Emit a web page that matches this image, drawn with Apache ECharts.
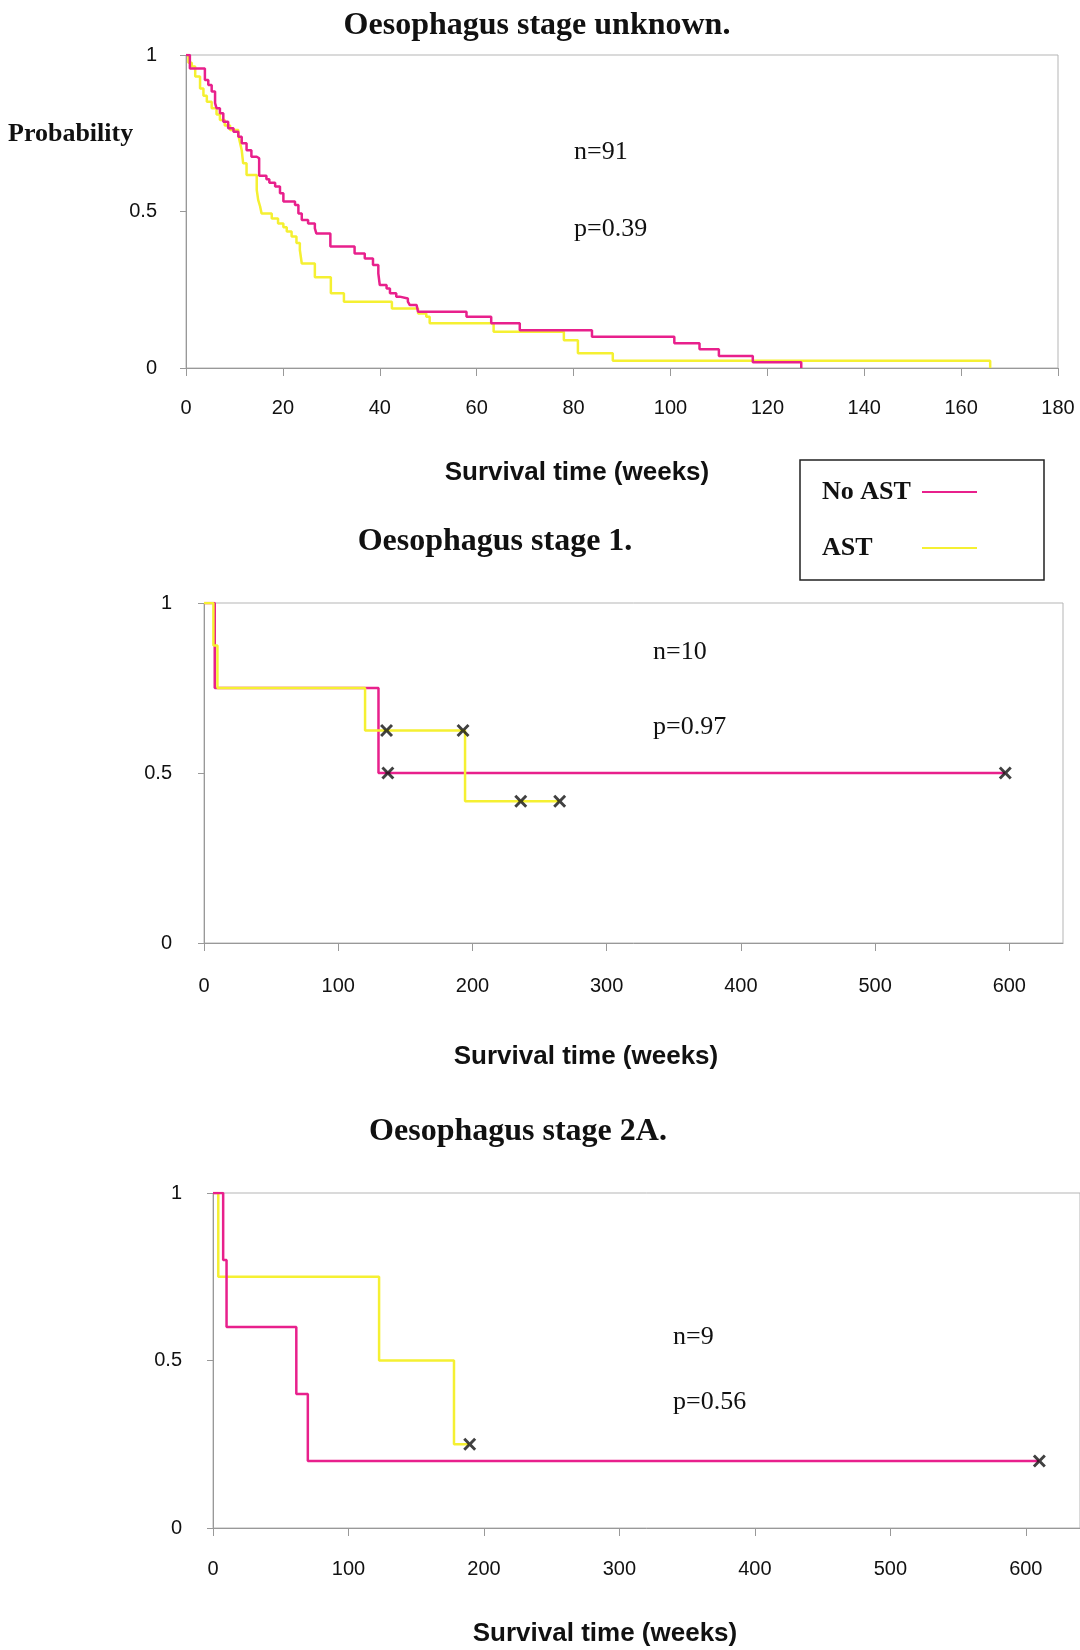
<!DOCTYPE html>
<html>
<head>
<meta charset="utf-8">
<title>Oesophagus survival by AST</title>
<script src="https://cdn.jsdelivr.net/npm/echarts@6.0.0/dist/echarts.min.js"></script>
<style>
  body { margin: 0; background: #fff; }
  #content { width: 1080px; height: 1650px; }
</style>
</head>
<body>
<div id="content"></div>
<script>
// Kaplan-Meier steps: [week, survival after the drop]
var noAstUnknown = [[0, 1], [0.8, 0.957], [3.9, 0.92], [4.6, 0.904], [5.3, 0.883], [6.0, 0.846], [6.3, 0.83],
    [7.0, 0.814], [7.7, 0.787], [8.7, 0.766], [9.8, 0.755], [10.8, 0.739], [11.5, 0.718], [12.5, 0.696],
    [13.5, 0.675], [14.6, 0.67], [15.1, 0.614], [16.6, 0.603], [17.2, 0.592], [18.4, 0.58], [19.4, 0.558],
    [20.1, 0.532], [22.5, 0.521], [23.2, 0.494], [23.9, 0.473], [25.2, 0.462], [26.6, 0.446], [26.9, 0.43],
    [29.8, 0.388], [34.8, 0.366], [36.9, 0.35], [38.6, 0.329], [39.7, 0.302], [40.0, 0.265], [41.4, 0.254],
    [42.1, 0.239], [43.4, 0.228], [44.1, 0.222], [45.8, 0.212], [46.2, 0.201], [47.6, 0.196], [47.9, 0.18],
    [57.9, 0.164], [63.0, 0.143], [68.9, 0.121], [83.8, 0.1], [100.8, 0.079], [106, 0.06], [110, 0.038],
    [117, 0.018], [127, 0]];
var astUnknown = [[0, 1], [0.5, 0.975], [1.2, 0.963], [1.9, 0.931], [2.9, 0.893], [3.6, 0.87], [4.3, 0.851],
    [5.3, 0.83], [6.3, 0.81], [7.0, 0.792], [8.0, 0.775], [9.1, 0.76], [10.8, 0.744], [11.1, 0.723],
    [11.5, 0.696], [11.8, 0.654], [12.5, 0.617], [14.6, 0.569], [14.9, 0.537], [15.3, 0.516], [15.6, 0.494],
    [17.7, 0.478], [19.0, 0.462], [20.1, 0.45], [20.8, 0.436], [21.8, 0.42], [22.8, 0.399], [23.5, 0.377],
    [23.9, 0.334], [26.6, 0.29], [29.9, 0.239], [32.6, 0.212], [42.5, 0.19], [47.9, 0.174], [49.6, 0.164],
    [50.3, 0.143], [63.5, 0.116], [78.0, 0.089], [80.9, 0.047], [88.1, 0.023], [166, 0]];

var noAstStage1 = [[0, 1], [8, 0.75], [130, 0.5], [597, 0.5]];
var astStage1 = [[0, 1], [7, 0.875], [10, 0.75], [120, 0.625], [194.5, 0.417], [265, 0.417]];
var noAstCensorStage1 = [[137, 0.5], [597, 0.5]];
var astCensorStage1 = [[136, 0.625], [193, 0.625], [236, 0.417], [265, 0.417]];

var noAstStage2A = [[0, 1], [7.5, 0.8], [10, 0.6], [61.5, 0.4], [70, 0.2], [610, 0.2]];
var astStage2A = [[0, 1], [3.9, 0.75], [122.6, 0.5], [177.9, 0.25], [189, 0.25]];
var noAstCensorStage2A = [[610, 0.2]];
var astCensorStage2A = [[189.5, 0.25]];

var weekTicksUnknown = [0, 20, 40, 60, 80, 100, 120, 140, 160, 180];
var weekTicksStage = [0, 100, 200, 300, 400, 500, 600];

var pink = "#e8208c";
var yellow = "#f5f032";
var crossPath = "path://M0,1.6L1.6,0L5,3.4L8.4,0L10,1.6L6.6,5L10,8.4L8.4,10L5,6.6L1.6,10L0,8.4L3.4,5Z";
var sansFont = "Liberation Sans";
var serifFont = "Liberation Serif";

var myChart = echarts.init(document.getElementById("content"));

// 一条生存曲线（阶梯线）
function stepLine(name, data, color, idx) {
    return {
        name: name,
        type: "line",
        step: "end",
        data: data,
        xAxisIndex: idx,
        yAxisIndex: idx,
        symbol: "none",
        showSymbol: false,
        color: color,
        lineStyle: { color: color, width: 2.5 },
        itemStyle: { color: color },
        z: 2,
    };
}

// 删失点 (x)
function censorMarks(data, idx) {
    return {
        name: "censored",
        type: "scatter",
        data: data,
        xAxisIndex: idx,
        yAxisIndex: idx,
        symbol: crossPath,
        symbolSize: 13,
        itemStyle: { color: "#111" },
        z: 5,
    };
}

function xAxisOf(idx, max, interval, ticks, margin) {
    return {
        gridIndex: idx,
        type: "value",
        min: 0,
        max: max,
        interval: interval,
        axisLine: { show: true, onZero: false, lineStyle: { color: "#999", width: 1 } },
        axisTick: { show: true, length: 8, customValues: ticks, lineStyle: { color: "#999" } },
        axisLabel: { margin: margin, customValues: ticks, color: "#111", fontFamily: sansFont, fontSize: 20 },
        splitLine: { show: false },
    };
}

function yAxisOf(idx, margin, lift) {
    return {
        gridIndex: idx,
        type: "value",
        min: 0,
        max: 1,
        interval: 0.5,
        axisLine: { show: true, lineStyle: { color: "#999", width: 1 } },
        axisTick: { show: true, length: 6, lineStyle: { color: "#999" } },
        axisLabel: {
            margin: margin,
            padding: [0, 0, lift, 0],
            color: "#111",
            fontFamily: sansFont,
            fontSize: 20,
        },
        splitLine: { show: false },
    };
}

function label(text, x, y, font, align) {
    return {
        type: "text",
        x: x,
        y: y,
        silent: true,
        style: {
            text: text,
            font: font,
            fill: "#111",
            textAlign: align || "left",
            textVerticalAlign: "middle",
        },
    };
}

var titleFont = 'bold 32px "' + serifFont + '"';
var noteFont = '26px "' + serifFont + '"';
var axisNameFont = 'bold 26px "' + sansFont + '"';

myChart.setOption({
    animation: false,
    backgroundColor: "#fff",
    grid: [
        { left: 186, top: 55, width: 872, height: 313, show: true, borderColor: "#b5b5b5", borderWidth: 1 },
        { left: 204, top: 603, width: 859, height: 340, show: true, borderColor: "#b5b5b5", borderWidth: 1 },
        { left: 213, top: 1193, width: 877, height: 335, show: true, borderColor: "#b5b5b5", borderWidth: 1 },
    ],
    xAxis: [
        xAxisOf(0, 180, 20, weekTicksUnknown, 30),
        xAxisOf(1, 640, 100, weekTicksStage, 33),
        xAxisOf(2, 640, 100, weekTicksStage, 31),
    ],
    yAxis: [
        yAxisOf(0, 29, 12),
        yAxisOf(1, 32, 20),
        yAxisOf(2, 31, 13),
    ],
    legend: {
        data: ["No AST", "AST"],
        orient: "vertical",
        left: 800,
        top: 460,
        align: "right",
        icon: "rect",
        itemWidth: 55,
        itemHeight: 2,
        itemGap: 30,
        padding: [19, 67, 19, 22],
        borderColor: "#222",
        borderWidth: 1.5,
        selectedMode: false,
        formatter: "{a|{name}}",
        textStyle: {
            rich: {
                a: { width: 95, align: "left", fontFamily: serifFont, fontWeight: "bold", fontSize: 26, color: "#111" },
            },
        },
    },
    graphic: [
        label("Oesophagus stage unknown.", 537, 26, titleFont, "center"),
        label("Oesophagus stage 1.", 495, 542, titleFont, "center"),
        label("Oesophagus stage 2A.", 518, 1132, titleFont, "center"),
        label("Probability", 8, 134, 'bold 26px "' + serifFont + '"'),
        label("n=91", 574, 152, noteFont),
        label("p=0.39", 574, 229, noteFont),
        label("n=10", 653, 652, noteFont),
        label("p=0.97", 653, 727, noteFont),
        label("n=9", 673, 1337, noteFont),
        label("p=0.56", 673, 1402, noteFont),
        label("Survival time (weeks)", 577, 473, axisNameFont, "center"),
        label("Survival time (weeks)", 586, 1057, axisNameFont, "center"),
        label("Survival time (weeks)", 605, 1634, axisNameFont, "center"),
    ],
    series: [
        stepLine("AST", astUnknown, yellow, 0),
        stepLine("No AST", noAstUnknown, pink, 0),
        stepLine("No AST", noAstStage1, pink, 1),
        stepLine("AST", astStage1, yellow, 1),
        censorMarks(noAstCensorStage1, 1),
        censorMarks(astCensorStage1, 1),
        stepLine("AST", astStage2A, yellow, 2),
        stepLine("No AST", noAstStage2A, pink, 2),
        censorMarks(noAstCensorStage2A, 2),
        censorMarks(astCensorStage2A, 2),
    ],
});
</script>
</body>
</html>
